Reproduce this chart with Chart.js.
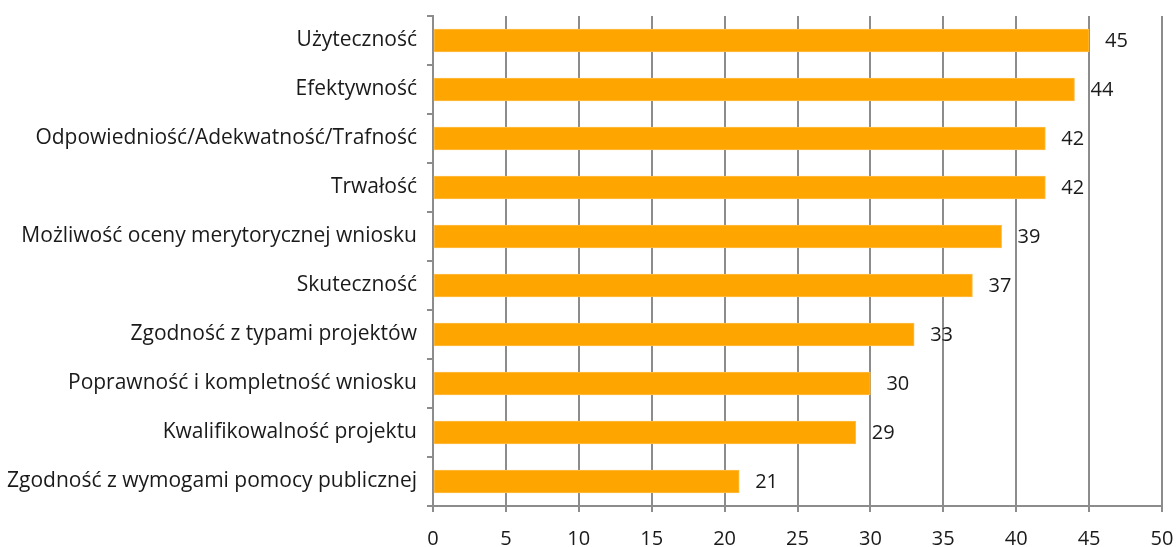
<!DOCTYPE html>
<html>
<head>
<meta charset="utf-8">
<script src="https://cdn.jsdelivr.net/npm/chart.js@4/dist/chart.umd.min.js"></script>
<style>
  html, body { margin: 0; padding: 0; background: #fff; }
  #wrap { width: 1176px; height: 547px; }
</style>
</head>
<body>
<div id="wrap"><canvas id="chart"></canvas></div>
<script>
// Kryteria oceny - liczba wskazań
const categories = [
    'Użyteczność',
    'Efektywność',
    'Odpowiedniość/Adekwatność/Trafność',
    'Trwałość',
    'Możliwość oceny merytorycznej wniosku',
    'Skuteczność',
    'Zgodność z typami projektów',
    'Poprawność i kompletność wniosku',
    'Kwalifikowalność projektu',
    'Zgodność z wymogami pomocy publicznej'
];
const values = [45, 44, 42, 42, 39, 37, 33, 30, 29, 21];
const xMin = 0;
const xMax = 50;
const xStep = 5;

const fontFamily = "'Open Sans', 'DejaVu Sans', sans-serif";

// Simple value labels drawn right of each bar
const valueLabels = {
    id: 'valueLabels',
    afterDatasetsDraw(chart) {
        const ctx = chart.ctx;
        const meta = chart.getDatasetMeta(0);
        ctx.save();
        ctx.font = '20px ' + fontFamily;
        ctx.fillStyle = '#1a1a1a';
        ctx.textAlign = 'left';
        ctx.textBaseline = 'middle';
        meta.data.forEach((bar, i) => {
            ctx.fillText(String(values[i]), bar.x + 16, bar.y + 1);
        });
        ctx.restore();
    }
};

const ctx = document.getElementById('chart').getContext('2d');
new Chart(ctx, {
    type: 'bar',
    data: {
        labels: categories,
        datasets: [{
            data: values,
            backgroundColor: '#FFA500',
            borderColor: '#FFBE4A',
            borderWidth: 1,
            borderSkipped: false,
            barThickness: 23
        }]
    },
    options: {
        indexAxis: 'y',
        responsive: true,
        maintainAspectRatio: false,
        animation: false,
        layout: { padding: { top: 16, right: 14, left: 0, bottom: 0 } },
        scales: {
            x: {
                min: xMin,
                max: xMax,
                ticks: {
                    stepSize: xStep,
                    color: '#1a1a1a',
                    font: { family: fontFamily, size: 20 },
                    padding: 15
                },
                grid: {
                    color: '#8c8c8c',
                    lineWidth: 2,
                    tickLength: 6
                },
                border: { display: true, color: '#8c8c8c', width: 2 },
                afterFit(scale) {
                    scale.height = 41;
                    scale.paddingLeft = 0;
                    scale.paddingRight = 0;
                }
            },
            y: {
                offset: true,
                ticks: {
                    color: '#1a1a1a',
                    font: { family: fontFamily, size: 21 },
                    padding: 10
                },
                grid: {
                    offset: true,
                    drawOnChartArea: false,
                    color: '#8c8c8c',
                    lineWidth: 2,
                    tickLength: 6
                },
                border: { display: true, color: '#8c8c8c', width: 2 },
                afterFit(scale) {
                    scale.width = 433;
                    scale.paddingTop = 0;
                    scale.paddingBottom = 0;
                }
            }
        },
        plugins: {
            legend: { display: false },
            tooltip: { enabled: false }
        }
    },
    plugins: [valueLabels]
});
</script>
</body>
</html>
